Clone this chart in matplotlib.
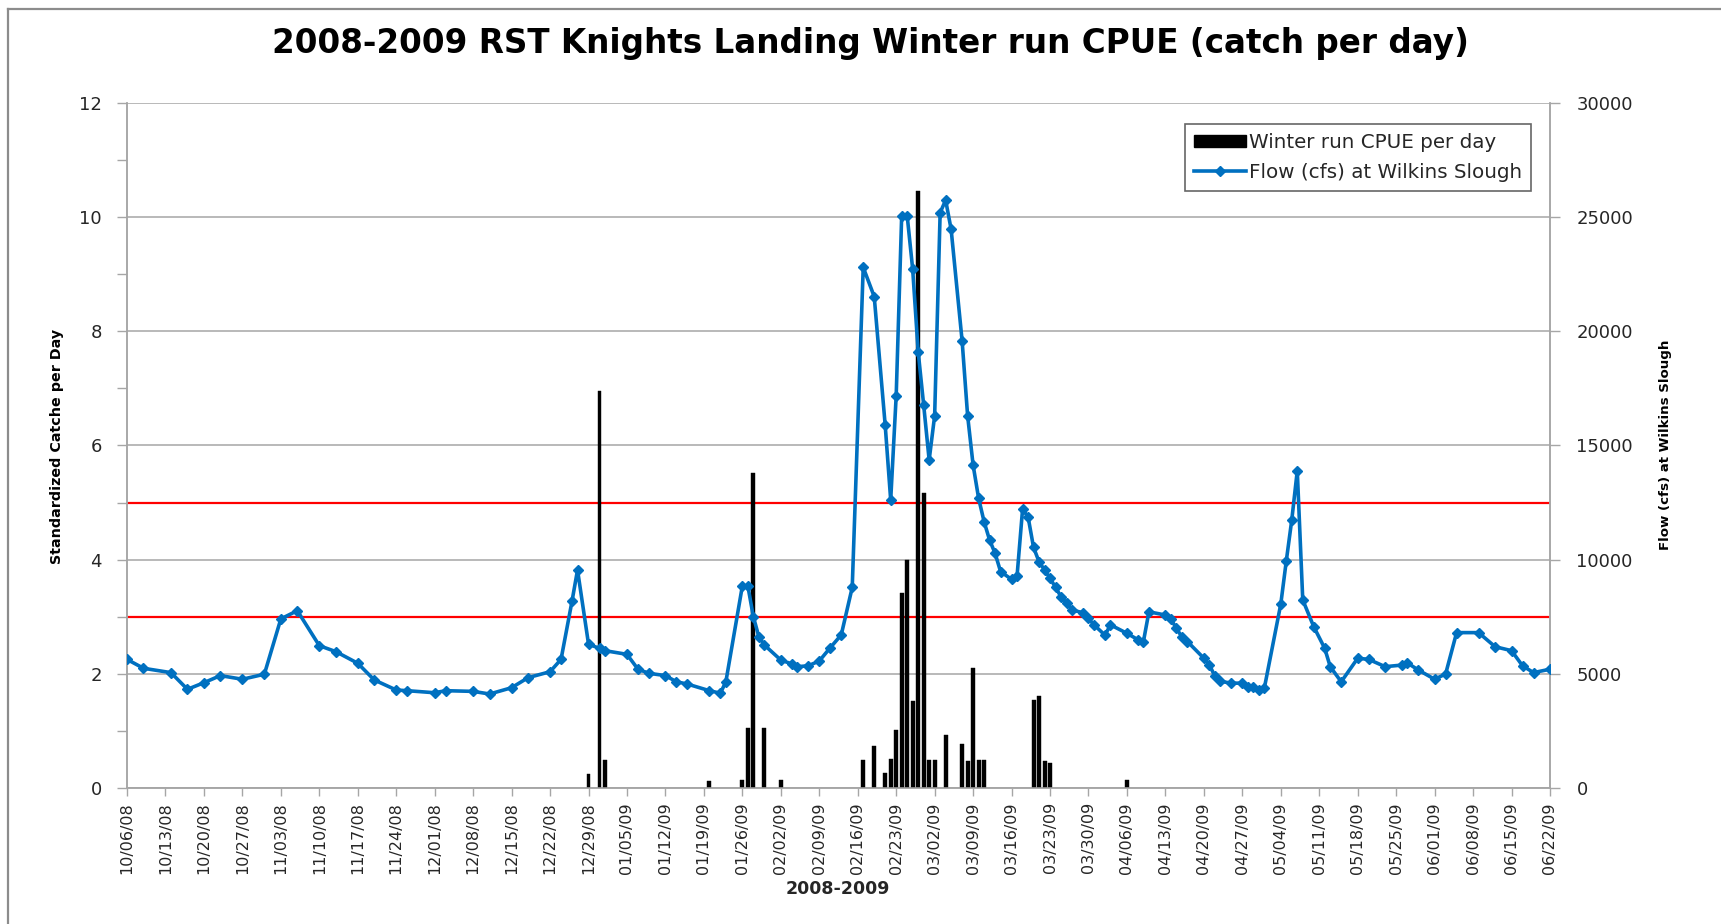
import numpy as np
import matplotlib
matplotlib.use("Agg")
import matplotlib.pyplot as plt
import matplotlib.dates as mdates
from matplotlib.lines import Line2D
from matplotlib.patches import Patch

# ---------------- data ----------------
start_date = "2008-10-06"
end_date = "2009-06-22"

# Flow (cfs) at Wilkins Slough: day offset from start, flow value
flow_day = [0, 3, 8, 11, 14, 17, 21, 25, 28, 31, 35, 38, 42, 45, 49, 51, 56, 58, 63, 66,
            70, 73, 77, 79, 81, 82, 84, 86, 87, 91, 93, 95, 98, 100, 102, 106, 108, 109,
            112, 113, 114, 115, 116, 119, 121, 122, 124, 126, 128, 130, 132, 134, 136,
            138, 139, 140, 141, 142, 143, 144, 145, 146, 147, 148, 149, 150, 152, 153,
            154, 155, 156, 157, 158, 159, 161, 162, 163, 164, 165, 166, 167, 168, 169,
            170, 171, 172, 174, 175, 176, 178, 179, 182, 184, 185, 186, 189, 190, 191,
            192, 193, 196, 197, 198, 199, 201, 203, 204, 205, 206, 207, 210, 211, 212,
            213, 214, 216, 218, 219, 221, 224, 226, 229, 232, 233, 235, 238, 240, 242,
            246, 249, 252, 254, 256, 259]
flow_cfs = [5640, 5250, 5060, 4330, 4620, 4930, 4770, 4990, 7410, 7770, 6240, 5980, 5470,
            4740, 4300, 4270, 4180, 4270, 4240, 4125, 4400, 4840, 5100, 5640, 8190, 9550,
            6310, 6120, 6020, 5860, 5210, 5030, 4930, 4660, 4560, 4270, 4160, 4660, 8850,
            8850, 7510, 6630, 6270, 5610, 5440, 5320, 5360, 5570, 6150, 6710, 8790, 22790,
            21510, 15880, 12610, 17170, 25050, 25050, 22710, 19100, 16770, 14360, 16300,
            25180, 25730, 24450, 19570, 16300, 14140, 12690, 11660, 10860, 10280, 9480,
            9140, 9290, 12200, 11880, 10540, 9910, 9550, 9190, 8790, 8380, 8120, 7800,
            7680, 7430, 7150, 6700, 7150, 6780, 6500, 6420, 7720, 7580, 7400, 7000, 6620,
            6420, 5690, 5400, 4910, 4680, 4600, 4600, 4420, 4450, 4280, 4375, 8060, 9940,
            11740, 13890, 8240, 7070, 6120, 5320, 4660, 5690, 5640, 5320, 5390, 5490, 5180,
            4770, 5000, 6810, 6810, 6195, 6020, 5360, 5060, 5210]

# Winter run CPUE per day (standardized catch): day offset, value
cpue_day = [84, 86, 87, 106, 112, 113, 114, 116, 119, 134, 136, 138, 139, 140, 141, 142,
            143, 144, 145, 146, 147, 149, 152, 153, 154, 155, 156, 165, 166, 167, 168, 182]
cpue_val = [0.25, 6.95, 0.5, 0.12, 0.15, 1.05, 5.52, 1.06, 0.15, 0.5, 0.74, 0.26, 0.51,
            1.02, 3.42, 3.99, 1.52, 10.46, 5.16, 0.5, 0.5, 0.93, 0.78, 0.48, 2.10, 0.5,
            0.5, 1.55, 1.62, 0.48, 0.45, 0.15]

threshold_levels = [5, 3]

title = "2008-2009 RST Knights Landing Winter run CPUE (catch per day)"
ylabel_left = "Standardized Catche per Day"
ylabel_right = "Flow (cfs) at Wilkins Slough"
xlabel = "2008-2009"
legend_labels = ["Winter run CPUE per day", "Flow (cfs) at Wilkins Slough"]

# ---------------- figure ----------------
W, H = 1721, 924
fig = plt.figure(figsize=(W / 100, H / 100), dpi=100)
fig.patch.set_facecolor("white")

x0, x1, y_top, y_bot = 127, 1550, 102.5, 788.3
ax = fig.add_axes([x0 / W, 1 - y_bot / H, (x1 - x0) / W, (y_bot - y_top) / H])
ax2 = ax.twinx()

start = np.datetime64(start_date)
end = np.datetime64(end_date)
fdates = start + np.array(flow_day).astype("timedelta64[D]")
cdates = start + np.array(cpue_day).astype("timedelta64[D]")

grid_c = "#A6A6A6"
text_c = "#262626"

ax.bar(cdates, cpue_val, width=0.72, color="black", edgecolor="black", linewidth=0.3, zorder=3)
for lv in threshold_levels:
    ax.axhline(lv, color="#FF0000", linewidth=1.6, zorder=2)

ax2.plot(fdates, flow_cfs, color="#0070C0", linewidth=2.6, marker="D", markersize=5.5,
         markerfacecolor="#0070C0", markeredgecolor="#0070C0", zorder=4)

ax.set_xlim(start, end)
ax.set_ylim(0, 12)
ax2.set_ylim(0, 30000)
ax.set_yticks(np.arange(0, 13, 2))
ax.set_yticks(np.arange(1, 12, 2), minor=True)
ax2.set_yticks(np.arange(0, 30001, 5000))

ax.yaxis.grid(True, which="major", color=grid_c, linewidth=1.1, zorder=0)
ax.set_axisbelow(True)

ticks = start + np.arange(0, 260, 7).astype("timedelta64[D]")
ax.set_xticks(ticks)
ax.xaxis.set_major_formatter(mdates.DateFormatter("%m/%d/%y"))
plt.setp(ax.get_xticklabels(), rotation=90, fontsize=11.5, color=text_c)

ax.tick_params(axis="x", direction="out", length=6, width=1, color=grid_c, pad=4)
ax.tick_params(axis="y", which="major", direction="out", length=7, width=1, color=grid_c,
               labelsize=13, labelcolor=text_c, pad=11)
ax.tick_params(axis="y", which="minor", direction="out", length=7, width=1, color=grid_c)
ax2.tick_params(axis="y", direction="out", length=7, width=1, color=grid_c,
                labelsize=13, labelcolor=text_c, pad=12)

for a in (ax, ax2):
    a.spines["top"].set_visible(False)
    for s in ("left", "right", "bottom"):
        a.spines[s].set_color(grid_c)
        a.spines[s].set_linewidth(1.1)
ax2.patch.set_visible(False)

# texts
fig.text(870 / W, 1 - 44 / H, title, ha="center", va="center", fontsize=23.5,
         fontweight="bold", color="black")
fig.text(57 / W, 1 - 446 / H, ylabel_left, ha="center", va="center", rotation=90,
         fontsize=10.3, fontweight="bold", color="black")
fig.text(1665 / W, 1 - 445 / H, ylabel_right, ha="center", va="center", rotation=90,
         fontsize=9.6, fontweight="bold", color="black")
fig.text(838 / W, 1 - 889 / H, xlabel, ha="center", va="center", fontsize=12.5,
         fontweight="bold", color=text_c)

# legend
handles = [Patch(facecolor="black", edgecolor="black"),
           Line2D([0], [0], color="#0070C0", linewidth=2.6, marker="D", markersize=5)]
leg = ax2.legend(handles, legend_labels, loc="upper right",
                 bbox_to_anchor=((1531 - x0) / (x1 - x0), (y_bot - 124) / (y_bot - y_top)),
                 fontsize=14.3, frameon=True, fancybox=False, edgecolor="#404040",
                 handlelength=2.6, handleheight=0.55, borderpad=0.45, labelspacing=0.55,
                 handletextpad=0.15, borderaxespad=0)
leg.get_frame().set_linewidth(1.2)
for t in leg.get_texts():
    t.set_color(text_c)

# outer border (top and left)
fig.add_artist(Line2D([8 / W, 8 / W], [0, 1 - 9 / H], transform=fig.transFigure,
                      color="#8C8C8C", linewidth=1.6))
fig.add_artist(Line2D([8 / W, 1], [1 - 9 / H, 1 - 9 / H], transform=fig.transFigure,
                      color="#8C8C8C", linewidth=1.6))

fig.savefig("out.png", dpi=100, facecolor="white")
